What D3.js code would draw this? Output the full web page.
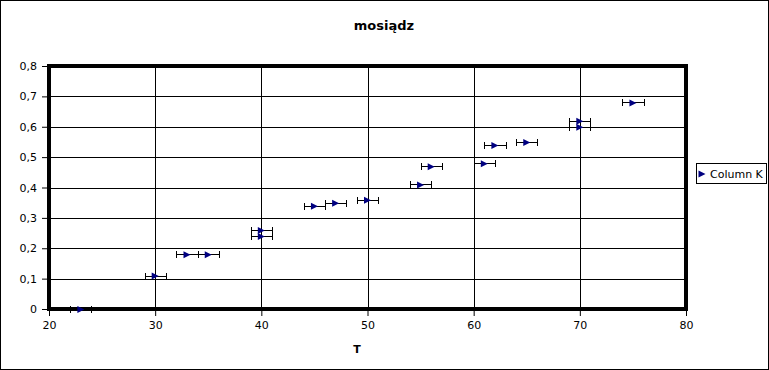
<!DOCTYPE html>
<html><head><meta charset="utf-8">
<script src="https://cdn.jsdelivr.net/npm/d3@7"></script>
<style>body{margin:0;background:#fff}svg{display:block}text{font-family:"DejaVu Sans",sans-serif}</style>
</head><body><svg id="c" width="769" height="370"></svg>
<script>
const title = "mosiądz";
const xTitle = "T";
const seriesName = "Column K";
const xValues = [23, 30, 33, 35, 40, 40, 45, 47, 50, 55, 56, 61, 62, 65, 70, 70, 75];
const yValues = [0, 0.11, 0.18, 0.18, 0.26, 0.24, 0.34, 0.35, 0.36, 0.41, 0.47, 0.48, 0.54, 0.55, 0.62, 0.60, 0.68];
const xError = [1, 1, 1, 1, 1, 1, 1, 1, 1, 1, 1, 1, 1, 1, 1, 1, 1];
const xTicks = [20, 30, 40, 50, 60, 70, 80];
const yTicks = [0, 0.1, 0.2, 0.3, 0.4, 0.5, 0.6, 0.7, 0.8];

const svg = d3.select("#c");
const W = 769, H = 370;
const L = 49, R = 686, T = 66, B = 309;
const x = d3.scaleLinear().domain([20, 80]).range([L, R]);
const y = d3.scaleLinear().domain([0, 0.8]).range([B, T]);
const fmt = d => d3.format(".1f")(d).replace(".", ",").replace(/^0,0$/, "0");

svg.append("rect").attr("x", 0.5).attr("y", 0.5).attr("width", W - 1).attr("height", H - 1)
  .attr("fill", "#fff").attr("stroke", "#000");

// gridlines
svg.append("g").selectAll("line").data(yTicks.slice(1, -1)).join("line")
  .attr("x1", L).attr("x2", R).attr("y1", d => Math.round(y(d)) + 0.5).attr("y2", d => Math.round(y(d)) + 0.5)
  .attr("stroke", "#000");
svg.append("g").selectAll("line").data(xTicks.slice(1, -1)).join("line")
  .attr("y1", T).attr("y2", B).attr("x1", d => Math.round(x(d)) + 0.5).attr("x2", d => Math.round(x(d)) + 0.5)
  .attr("stroke", "#000");

// axes
const yAxis = d3.axisLeft(y).tickValues(yTicks).tickFormat(fmt).tickSize(7).tickPadding(5);
const gy = svg.append("g").attr("transform", `translate(${L},0)`).call(yAxis);
const xAxis = d3.axisBottom(x).tickValues(xTicks).tickFormat(d3.format("d")).tickSize(7).tickPadding(5);
const gx = svg.append("g").attr("transform", `translate(0,${B})`).call(xAxis);
[gy, gx].forEach(g => {
  g.select(".domain").remove();
  g.selectAll("text").attr("font-size", 11).attr("fill", "#000").attr("font-family", "DejaVu Sans");
  g.selectAll("line").attr("stroke", "#000");
});

// plot border
svg.append("rect").attr("x", L).attr("y", T).attr("width", R - L).attr("height", B - T)
  .attr("fill", "none").attr("stroke", "#000").attr("stroke-width", 4);

// error bars
const data = xValues.map((v, i) => ({x: v, y: yValues[i], e: xError[i]}));
const eb = svg.append("g").attr("stroke", "#000").attr("stroke-width", 1);
data.forEach(d => {
  const cy = Math.round(y(d.y)) + 0.5;
  const x0 = Math.round(x(d.x - d.e)) + 0.5, x1 = Math.round(x(d.x + d.e)) + 0.5;
  eb.append("line").attr("x1", x0).attr("x2", x1).attr("y1", cy).attr("y2", cy);
  eb.append("line").attr("x1", x0).attr("x2", x0).attr("y1", cy - 3.5).attr("y2", cy + 3.5);
  eb.append("line").attr("x1", x1).attr("x2", x1).attr("y1", cy - 3.5).attr("y2", cy + 3.5);
});

// markers
const tri = "M-3.5,-3.5L3.5,0L-3.5,3.5Z";
svg.append("g").selectAll("path").data(data).join("path")
  .attr("d", tri).attr("fill", "#000080")
  .attr("transform", d => `translate(${x(d.x)},${y(d.y) + 0.5})`);

// titles
svg.append("text").attr("x", 384).attr("y", 30).attr("text-anchor", "middle")
  .attr("font-size", 13).attr("font-weight", "bold").text(title);
svg.append("text").attr("x", 357).attr("y", 353).attr("text-anchor", "middle")
  .attr("font-size", 11).attr("font-weight", "bold").text(xTitle);

// legend
const lg = svg.append("g");
lg.append("rect").attr("x", 696.5).attr("y", 163.5).attr("width", 70).attr("height", 20)
  .attr("fill", "#fff").attr("stroke", "#000");
lg.append("path").attr("d", tri).attr("fill", "#000080").attr("transform", "translate(702,174)");
lg.append("text").attr("x", 710).attr("y", 178).attr("font-size", 11).text(seriesName);
</script></body></html>
